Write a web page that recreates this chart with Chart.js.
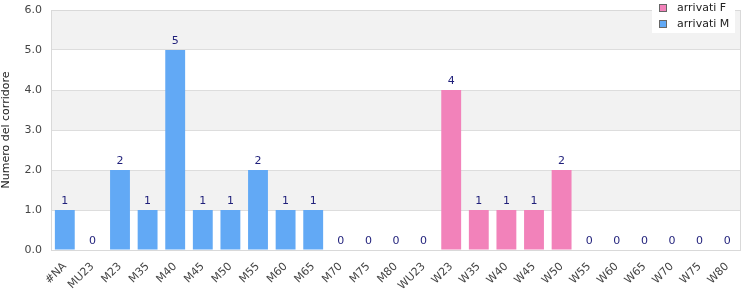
<!DOCTYPE html>
<html>
<head>
<meta charset="utf-8">
<script src="https://cdn.jsdelivr.net/npm/chart.js@4/dist/chart.umd.min.js"></script>
<style>
  html, body { margin: 0; padding: 0; background: #fff; }
  #wrap { width: 750px; height: 300px; }
</style>
</head>
<body>
<div id="wrap"><canvas id="chart" width="750" height="300"></canvas></div>
<script>
// categorie
const categories = ['#NA', 'MU23', 'M23', 'M35', 'M40', 'M45', 'M50', 'M55', 'M60', 'M65', 'M70', 'M75', 'M80',
  'WU23', 'W23', 'W35', 'W40', 'W45', 'W50', 'W55', 'W60', 'W65', 'W70', 'W75', 'W80'];
// arrivati maschi
const arrivatiM = [1, 0, 2, 1, 5, 1, 1, 2, 1, 1, 0, 0, 0,
  0, 0, 0, 0, 0, 0, 0, 0, 0, 0, 0, 0];
// arrivate femmine
const arrivatiF = [0, 0, 0, 0, 0, 0, 0, 0, 0, 0, 0, 0, 0,
  0, 4, 1, 1, 1, 2, 0, 0, 0, 0, 0, 0];
const yTicks = [0, 1, 2, 3, 4, 5, 6];

const FONT = 'DejaVu Sans';

// fasce alternate di sfondo
const bandsPlugin = {
  id: 'bands',
  beforeDraw(chart) {
    const { ctx, chartArea } = chart;
    const y = chart.scales.y;
    ctx.save();
    for (let i = 0; i < yTicks.length - 1; i++) {
      if (i % 2 === 1) {
        const top = y.getPixelForValue(yTicks[i + 1]);
        const bot = y.getPixelForValue(yTicks[i]);
        ctx.fillStyle = '#f2f2f2';
        ctx.fillRect(chartArea.left, top, chartArea.right - chartArea.left, bot - top);
      }
    }
    ctx.restore();
  },
  afterDraw(chart) {
    const { ctx, chartArea } = chart;
    ctx.save();
    ctx.strokeStyle = '#d9d9d9';
    ctx.lineWidth = 1;
    ctx.strokeRect(chartArea.left + 0.5, chartArea.top + 0.5,
      chartArea.right - chartArea.left - 1, chartArea.bottom - chartArea.top);
    ctx.restore();
  }
};

// etichette dei valori sopra le barre
const valuesPlugin = {
  id: 'values',
  afterDatasetsDraw(chart) {
    const { ctx } = chart;
    const x = chart.scales.x;
    const y = chart.scales.y;
    ctx.save();
    ctx.font = '11px ' + FONT;
    ctx.fillStyle = '#1f1f7a';
    ctx.textAlign = 'center';
    ctx.textBaseline = 'bottom';
    categories.forEach((c, i) => {
      const tot = arrivatiM[i] + arrivatiF[i];
      ctx.fillText(String(tot), x.getPixelForValue(i), y.getPixelForValue(tot) - 3);
    });
    ctx.restore();
  }
};

// legenda in alto a destra
const legendPlugin = {
  id: 'customLegend',
  afterDraw(chart) {
    const { ctx } = chart;
    const items = chart.data.datasets;
    const left = 652, top = 0, w = 83, h = 33;
    ctx.save();
    ctx.fillStyle = '#ffffff';
    ctx.fillRect(left, top, w, h);
    ctx.font = '11px ' + FONT;
    ctx.textBaseline = 'middle';
    items.forEach((ds, i) => {
      const cy = 8 + i * 16;
      ctx.fillStyle = ds.backgroundColor;
      ctx.fillRect(left + 7.5, cy - 3.5, 7, 7);
      ctx.strokeStyle = '#666';
      ctx.lineWidth = 1;
      ctx.strokeRect(left + 7.5, cy - 3.5, 7, 7);
      ctx.fillStyle = '#222';
      ctx.fillText(ds.label, left + 25, cy + 0.5);
    });
    ctx.restore();
  }
};

new Chart(document.getElementById('chart'), {
  type: 'bar',
  data: {
    labels: categories,
    datasets: [
      { label: 'arrivati F', data: arrivatiF, backgroundColor: '#f282ba', barPercentage: 0.72, categoryPercentage: 1 },
      { label: 'arrivati M', data: arrivatiM, backgroundColor: '#62a9f5', barPercentage: 0.72, categoryPercentage: 1 },
    ],
  },
  options: {
    responsive: false,
    animation: false,
    layout: { padding: { top: 10, right: 9, left: 0, bottom: 0 } },
    plugins: {
      legend: { display: false },
      tooltip: { enabled: false },
    },
    scales: {
      x: {
        stacked: true,
        grid: { display: false },
        border: { display: false },
        ticks: {
          minRotation: 45,
          maxRotation: 45,
          autoSkip: false,
          color: '#444',
          font: { family: FONT, size: 11 },
          padding: 2,
        },
        afterFit(scale) { scale.height = 50; scale.paddingTop = 0; scale.paddingBottom = 0; scale.paddingRight = 0; },
      },
      y: {
        stacked: true,
        min: 0,
        max: 6,
        grid: { color: '#dddddd', drawTicks: false },
        border: { display: false },
        ticks: {
          stepSize: 1,
          color: '#444',
          padding: 9,
          font: { family: FONT, size: 11 },
          callback: (v) => v.toFixed(1),
        },
        title: {
          display: true,
          text: 'Numero del corridore',
          color: '#222',
          font: { family: FONT, size: 11 },
          padding: 0,
        },
        afterFit(scale) { scale.width = 51; scale.paddingTop = 0; scale.paddingBottom = 0; },
      },
    },
  },
  plugins: [bandsPlugin, valuesPlugin, legendPlugin],
});
</script>
</body>
</html>
